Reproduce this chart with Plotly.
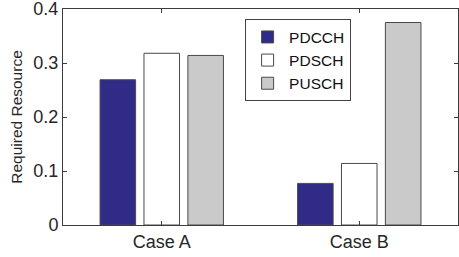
import plotly.graph_objects as go

categories = ["Case A", "Case B"]
series_names = ["PDCCH", "PDSCH", "PUSCH"]
pdcch = [0.269, 0.077]
pdsch = [0.318, 0.114]
pusch = [0.314, 0.375]
y_ticks = [0, 0.1, 0.2, 0.3, 0.4]
y_tick_labels = ["0", "0.1", "0.2", "0.3", "0.4"]

colors = ["#2f2b86", "#ffffff", "#cacaca"]
values = [pdcch, pdsch, pusch]
xpos = [1, 2]

fig = go.Figure()
for name, vals, col in zip(series_names, values, colors):
    fig.add_trace(go.Bar(
        x=xpos, y=vals, name=name,
        marker=dict(color=col, line=dict(color="#4a4a4a", width=1)),
    ))

axis_col = "#3c3c3c"
font = "Liberation Sans, Arial, sans-serif"
fig.update_layout(
    width=459, height=257,
    margin=dict(l=63, r=1, t=9, b=32, autoexpand=False),
    paper_bgcolor="white", plot_bgcolor="white",
    barmode="group", bargap=0.333, bargroupgap=0.19,
    font=dict(family=font, color="#262626", size=17),
    showlegend=True,
    legend=dict(
        x=0.461, y=0.952, xanchor="left", yanchor="top",
        bordercolor="#444444", borderwidth=1, bgcolor="white",
        font=dict(size=15.5, color="#111111"),
        itemwidth=33, tracegroupgap=0,
    ),
    xaxis=dict(
        range=[0.5, 2.5], tickvals=xpos, ticktext=categories,
        ticks="inside", ticklen=4, tickcolor=axis_col,
        showline=True, linecolor=axis_col, linewidth=1, mirror="ticks",
        showgrid=False, zeroline=False, automargin=False,
        tickfont=dict(size=18, color="#262626"),
    ),
    yaxis=dict(
        range=[0, 0.4], tickvals=y_ticks, ticktext=y_tick_labels,
        ticks="inside", ticklen=4, tickcolor=axis_col,
        showline=True, linecolor=axis_col, linewidth=1, mirror="ticks",
        showgrid=False, zeroline=False, automargin=False,
        ticklabeloverflow="allow",
        title=dict(text="Required Resource", font=dict(size=15.5, color="#262626"), standoff=6),
        tickfont=dict(size=18, color="#262626"),
    ),
)

fig.write_html(
    "out.html",
    config={"displayModeBar": False},
    post_script="document.body.style.margin='0';document.body.style.padding='0';",
)
